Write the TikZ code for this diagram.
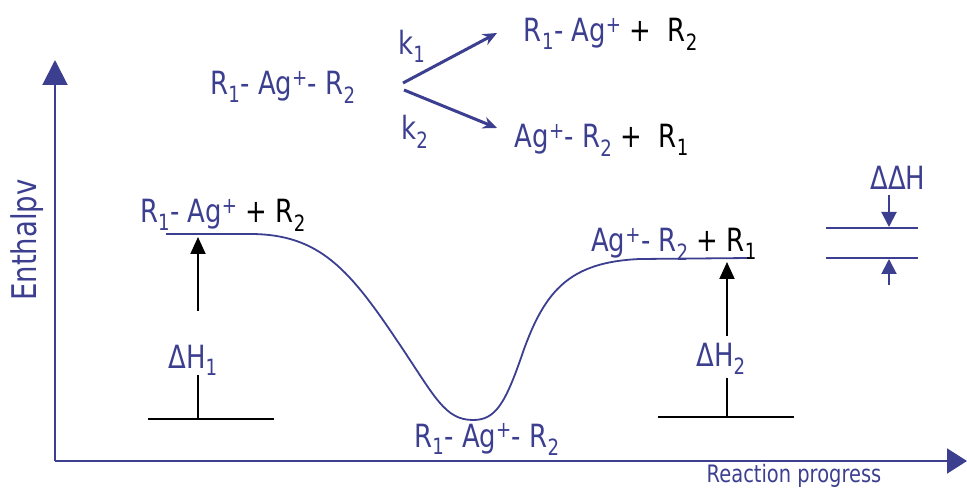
\documentclass[tikz,border=0pt]{standalone}
\usepackage{fontspec}
\setmainfont{DejaVu Sans}[FakeStretch=0.81]
\usetikzlibrary{arrows.meta,positioning}
\definecolor{ink}{HTML}{3C3F8F}

\begin{document}
\begin{tikzpicture}[x=1pt,y=-1pt,
  chem/.style={font=\fontsize{32}{36}\selectfont,text=ink,inner sep=0pt,anchor=base},
  note/.style={font=\fontsize{32}{36}\selectfont,text=ink,inner sep=0pt,anchor=base},
  axis/.style={draw=ink,line width=2pt},
  prof/.style={draw=ink,line width=1.8pt},
  lvl/.style={draw=black,line width=2pt},
  rise/.style={draw=black,line width=2pt,-{Triangle[length=17pt,width=15pt]}},
  gap/.style={draw=ink,line width=2pt,-{Triangle[length=15pt,width=15pt]}},
  rxn/.style={draw=ink,line width=3pt,-{Stealth[length=14pt,width=12pt]}}
]
  \useasboundingbox (0,0) rectangle (967,489);

  \coordinate (origin) at (55,461);
  \coordinate (ytip) at (55,60);
  \coordinate (xtip) at (967,461);
  \draw[axis,-{Triangle[length=25pt,width=25pt]}] (origin) -- (ytip);
  \draw[axis,-{Triangle[length=20pt,width=25pt]}] (origin) -- (xtip);
  \node[note,rotate=90,font=\fontsize{34}{38}\selectfont] (ylab) at (36,240) {Enthalpv};
  \node[chem,font=\fontsize{24}{28}\selectfont] (xlab) at (794,482) {Reaction progress};

  \node[chem] (reac) at (283,95) {R\textsubscript{1}- Ag\textsuperscript{+}- R\textsubscript{2}};
  \node[chem] (prodA) at (611,42) {R\textsubscript{1}- Ag\textsuperscript{+} \textcolor{black}{+~ R\textsubscript{2}}};
  \node[chem] (prodB) at (602,148) {Ag\textsuperscript{+}- R\textsubscript{2} \textcolor{black}{+~ R\textsubscript{1}}};
  \node[chem] (k1) at (412,55) {k\textsubscript{1}};
  \node[chem] (k2) at (415,140) {k\textsubscript{2}};
  \coordinate (forkA) at (403,83);
  \coordinate (forkB) at (404,90);
  \coordinate (tipA) at (497,33);
  \coordinate (tipB) at (497,128);
  \draw[rxn] (forkA) -- (tipA);
  \draw[rxn] (forkB) -- (tipB);

  \draw[prof] (166,234) -- (250,234)
    .. controls (320,234) and (350,270) .. (400,345)
    .. controls (435,397) and (445,420) .. (473,420)
    .. controls (495,420) and (505,405) .. (523,352)
    .. controls (545,290) and (570,262) .. (640,259) -- (750,258);

  \node[chem] (startlab) at (223,223) {R\textsubscript{1}- Ag\textsuperscript{+} \textcolor{black}{+ R\textsubscript{2}}};
  \node[chem] (midlab) at (487,447) {R\textsubscript{1}- Ag\textsuperscript{+}- R\textsubscript{2}};
  \node[chem] (endlab) at (674,252) {Ag\textsuperscript{+}- R\textsubscript{2} \textcolor{black}{+ R\textsubscript{1}}};

  \coordinate (lvlAl) at (148,419);
  \coordinate (lvlAr) at (274,419);
  \coordinate (baseA) at (198,419);
  \coordinate (stemA) at (198,375);
  \coordinate (headA) at (198,311);
  \coordinate (topA) at (198,237);
  \draw[lvl] (lvlAl) -- (lvlAr);
  \draw[lvl] (baseA) -- (stemA);
  \draw[rise] (headA) -- (topA);
  \node[note] (dH1) at (193,368) {ΔH\textsubscript{1}};

  \coordinate (lvlBl) at (658,417);
  \coordinate (lvlBr) at (794,417);
  \coordinate (baseB) at (727,417);
  \coordinate (stemB) at (727,378);
  \coordinate (headB) at (727,336);
  \coordinate (topB) at (727,262);
  \draw[lvl] (lvlBl) -- (lvlBr);
  \draw[lvl] (baseB) -- (stemB);
  \draw[rise] (headB) -- (topB);
  \node[note] (dH2) at (721,366) {ΔH\textsubscript{2}};

  \node[note] (ddH) at (898,190) {ΔΔH};
  \coordinate (gapTl) at (826,228);
  \coordinate (gapTr) at (918,228);
  \coordinate (gapBl) at (826,258);
  \coordinate (gapBr) at (918,258);
  \coordinate (downS) at (889,195);
  \coordinate (downE) at (889,227);
  \coordinate (upS) at (889,285);
  \coordinate (upE) at (889,259);
  \draw[prof] (gapTl) -- (gapTr);
  \draw[prof] (gapBl) -- (gapBr);
  \draw[gap] (downS) -- (downE);
  \draw[gap] (upS) -- (upE);
\end{tikzpicture}
\end{document}
